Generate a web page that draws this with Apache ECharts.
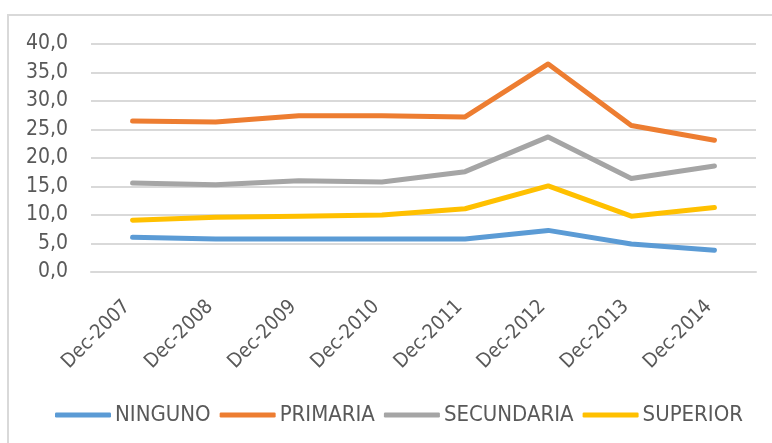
<!DOCTYPE html>
<html>
<head>
<meta charset="utf-8">
<script src="https://cdn.jsdelivr.net/npm/echarts@6/dist/echarts.min.js"></script>
<style>
  html, body { margin: 0; padding: 0; background: #fff; overflow: hidden; }
  #frame { position: absolute; left: 7px; top: 14px; width: 820px; height: 480px; border: 2px solid #d9d9d9; box-sizing: border-box; }
  #chart { position: absolute; left: 0; top: 0; width: 772px; height: 443px; }
</style>
</head>
<body>
<div id="frame"></div>
<div id="chart"></div>
<script>
// categorias (eje x)
const years = ['Dec-2007', 'Dec-2008', 'Dec-2009', 'Dec-2010', 'Dec-2011', 'Dec-2012', 'Dec-2013', 'Dec-2014'];

// valores por nivel educativo
const ninguno    = [6.1, 5.8, 5.8, 5.8, 5.8, 7.3, 4.9, 3.8];
const primaria   = [26.5, 26.3, 27.4, 27.4, 27.2, 36.5, 25.7, 23.1];
const secundaria = [15.6, 15.3, 16.0, 15.8, 17.6, 23.7, 16.4, 18.6];
const superior   = [9.1, 9.6, 9.8, 10.0, 11.1, 15.1, 9.8, 11.3];

const seriesInfo = [
  { name: 'NINGUNO', data: ninguno, color: '#5B9BD5' },
  { name: 'PRIMARIA', data: primaria, color: '#ED7D31' },
  { name: 'SECUNDARIA', data: secundaria, color: '#A5A5A5' },
  { name: 'SUPERIOR', data: superior, color: '#FFC000' }
];

const font = 'DejaVu Sans Condensed';
const txt = '#595959';

let myChart = echarts.init(document.getElementById('chart'), null, { renderer: 'canvas' });

let series = seriesInfo.map(s => ({
  name: s.name,
  type: 'line',
  data: s.data,
  showSymbol: false,
  symbol: 'none',
  smooth: false,
  lineStyle: { color: s.color, width: 5, cap: 'round', join: 'round' },
  itemStyle: { color: s.color },
  animation: false
}));

let option = {
  animation: false,
  grid: { left: 91, right: 16, top: 44, height: 228, containLabel: false },
  legend: {
    data: seriesInfo.map(s => s.name),
    top: 399,
    left: 50,
    icon: 'roundRect',
    itemWidth: 56,
    itemHeight: 5,
    itemGap: 9,
    textStyle: { color: txt, fontFamily: font, fontSize: 22, padding: [0, 0, 0, -1] }
  },
  xAxis: {
    type: 'category',
    data: years,
    boundaryGap: true,
    axisLine: { show: true, lineStyle: { color: '#d9d9d9', width: 2 } },
    axisTick: { show: false },
    axisLabel: { rotate: 45, margin: 26, padding: [0, 8, 0, 0], color: txt, fontFamily: font, fontSize: 20 }
  },
  yAxis: {
    type: 'value',
    min: 0,
    max: 40,
    interval: 5,
    axisLine: { show: false },
    axisTick: { show: false },
    splitLine: { lineStyle: { color: '#d9d9d9', width: 2 } },
    axisLabel: {
      margin: 23,
      color: txt,
      fontFamily: font,
      fontSize: 21,
      formatter: v => v.toFixed(1).replace('.', ',')
    }
  },
  series: series
};

myChart.setOption(option);
</script>
</body>
</html>
